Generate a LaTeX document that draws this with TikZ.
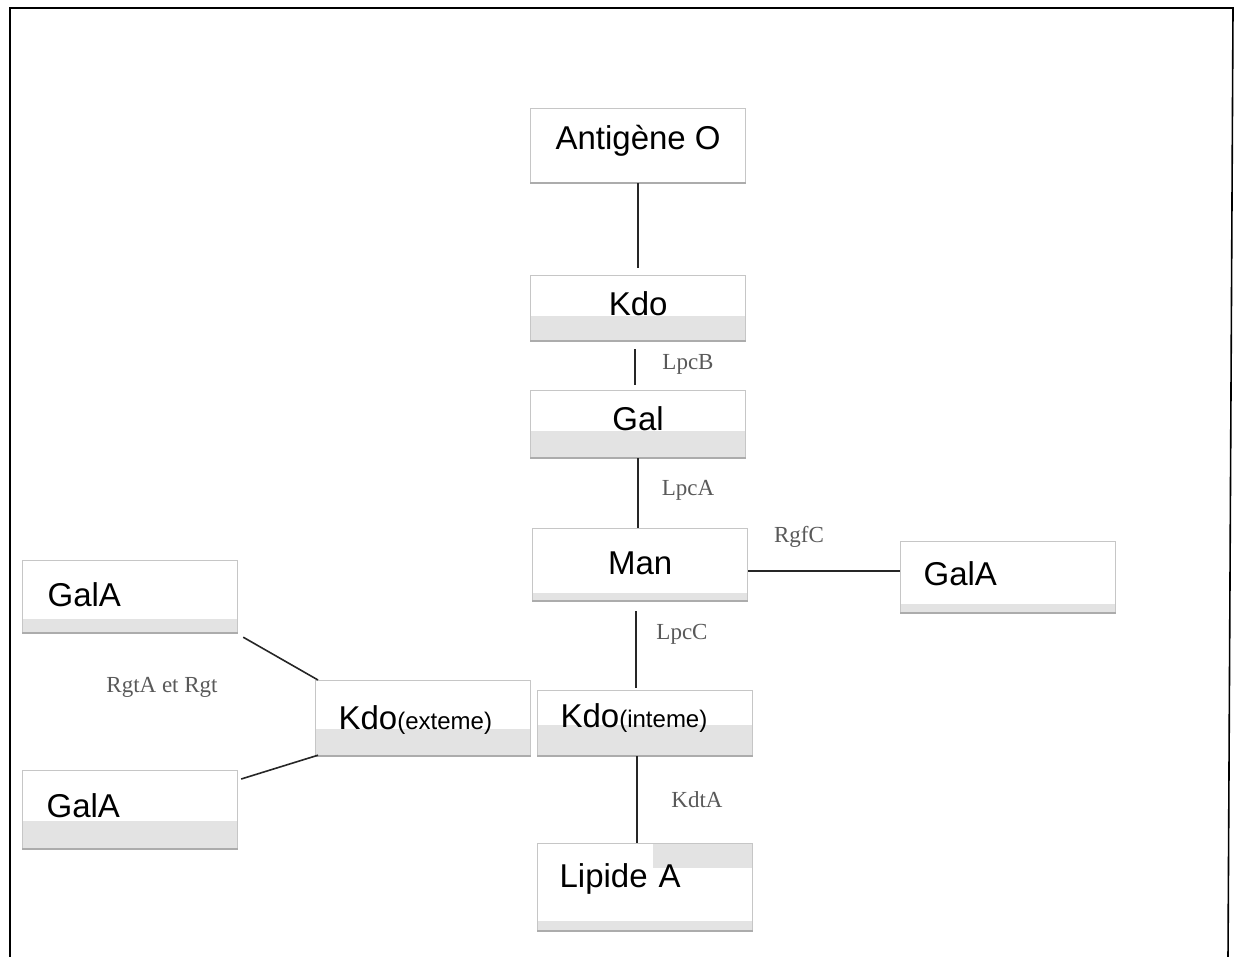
\documentclass[tikz,border=0pt]{standalone}
\usepackage{fontspec}
\setmainfont{Liberation Sans}
\newfontfamily\seriffont{Liberation Serif}
\newcommand\parenfont{\fontsize{24}{26}\selectfont}
\usetikzlibrary{backgrounds}
\begin{document}
\begin{tikzpicture}[x=1pt,y=-1pt,
  box/.style={draw=gray!45, line width=1.2pt, rectangle, inner sep=0pt, anchor=north west,
              minimum width=215pt, font=\fontsize{33}{36}\selectfont, text=black, text height=24pt},
  lbox/.style={box, align=left, inner xsep=23pt, text width=169pt},
  up/.style={text depth=#1},
  lab/.style={font=\seriffont\fontsize{23}{25}\selectfont, text=black!65, inner sep=0pt},
  conn/.style={draw=black!85, line width=1.6pt},
  band/.style={fill=gray!22},
  bline/.style={draw=gray!65, line width=2.2pt}]
\useasboundingbox (0,0) rectangle (1238,957);
% frame
\draw[line width=1.6pt] (10,957) -- (10,8) -- (1233,8) -- (1228,957);
% boxes
\node[box, minimum height=74pt, up=16pt] (antigen) at (530,108) {Antigène O};
\node[box, minimum height=65pt, up=10pt] (kdo) at (530,275) {Kdo};
\node[box, minimum height=67pt, up=12pt] (gal) at (530,390) {Gal};
\node[box, minimum height=72pt, up=4pt] (man) at (532,528) {Man};
\node[lbox, minimum height=71pt, up=8pt] (galar) at (900,541) {GalA};
\node[lbox, minimum height=72pt, up=4pt, inner xsep=25pt, text width=165pt] (galat) at (22,560) {GalA};
\node[lbox, minimum height=78pt, up=8pt, inner xsep=24pt, text width=167pt] (galab) at (22,770) {GalA};
\node[lbox, minimum height=75pt, up=2pt] (kdoe) at (315,680) {Kdo{\parenfont(exteme)}};
\node[lbox, minimum height=65pt, up=16pt, inner xsep=22pt, text width=169pt] (kdoi) at (537,690) {Kdo{\parenfont(inteme)}};
\node[lbox, minimum height=87pt, up=24pt, inner xsep=21pt, text width=171pt] (lipid) at (537,843) {Lipide A};
% grey bands
\begin{scope}[on background layer]
  \fill[band] ([yshift=25pt]kdo.south west) rectangle (kdo.south east);
  \fill[band] ([yshift=27pt]gal.south west) rectangle (gal.south east);
  \fill[band] ([yshift=27pt]kdoe.south west) rectangle (kdoe.south east);
  \fill[band] ([yshift=31pt]kdoi.south west) rectangle (kdoi.south east);
  \fill[band] ([yshift=14pt]galat.south west) rectangle (galat.south east);
  \fill[band] ([yshift=28pt]galab.south west) rectangle (galab.south east);
  \fill[band] ([yshift=9pt]galar.south west) rectangle (galar.south east);
  \fill[band] ([yshift=8pt]man.south west) rectangle (man.south east);
  \fill[band] ([yshift=10pt]lipid.south west) rectangle (lipid.south east);
  \fill[band] ([xshift=-100pt]lipid.north east) rectangle ([yshift=-25pt]lipid.north east);
\end{scope}
\foreach \b in {kdo,gal,kdoe,kdoi,galat,galab,galar,man,lipid,antigen}
  \draw[bline] (\b.south west) -- (\b.south east);
% connectors
\draw[conn] (antigen.south) -- ([yshift=7pt]kdo.north);
\draw[conn, shorten <=8pt, shorten >=5pt] ([xshift=-3pt]kdo.south) -- ([xshift=-3pt]gal.north);
\draw[conn] (gal.south) -- (gal.south |- man.north);
\draw[conn] (man.east |- 0,571) -- (galar.west |- 0,571);
\draw[conn, shorten <=10pt, shorten >=2pt] ([xshift=-4pt]man.south) -- ([xshift=-4pt]man.south |- kdoi.north);
\draw[conn] ([xshift=-8pt]kdoi.south) -- ([xshift=-8pt]lipid.north);
\draw[conn] ([shift={(5,4)}]galat.south east) -- ([shift={(3,0)}]kdoe.north west);
\draw[conn] ([shift={(3,9)}]galab.north east) -- ([shift={(3,-1)}]kdoe.south west);
% labels
\node[lab] (lpcb) at (688,364) {LpcB};
\node[lab] (lpca) at (688,490) {LpcA};
\node[lab] (rgfc) at (799,537) {RgfC};
\node[lab] (lpcc) at (682,634) {LpcC};
\node[lab] (kdta) at (697,800) {KdtA};
\node[lab] (rgta) at (162,687) {RgtA et Rgt};
\end{tikzpicture}
\end{document}
